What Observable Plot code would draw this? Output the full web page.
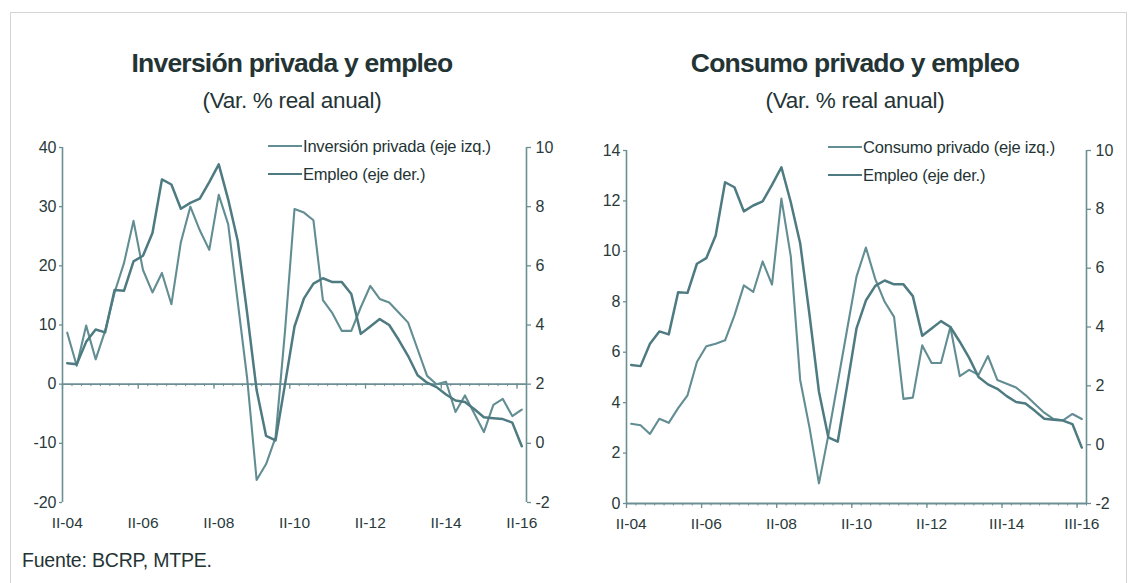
<!DOCTYPE html>
<html><head><meta charset="utf-8">
<script src="https://cdn.jsdelivr.net/npm/d3@7"></script>
<script src="https://cdn.jsdelivr.net/npm/@observablehq/plot@0.6"></script>
<style>
body{margin:0;background:#fff;}
#wrap{position:relative;width:1131px;height:583px;overflow:hidden;font-family:"Liberation Sans Narrow","Arial Narrow","Liberation Sans",Arial,sans-serif;color:#243435;background:#fff;}
.frame{position:absolute;left:10px;top:12px;width:1115px;height:600px;border:1px solid #d2d6d6;}
.title{position:absolute;font-weight:bold;font-size:26.5px;letter-spacing:-0.8px;text-align:center;width:460px;line-height:30px;}
.sub{position:absolute;font-size:22.5px;letter-spacing:-0.3px;text-align:center;width:460px;line-height:26px;}
.leg{position:absolute;font-size:16.5px;letter-spacing:-0.2px;line-height:18px;white-space:nowrap;}
.leg .row{display:flex;align-items:center;height:28px;}
.leg .sw{display:inline-block;width:34px;margin-right:1px;}
.src{position:absolute;left:22px;top:550px;font-size:19.5px;letter-spacing:-0.2px;}
.chart{position:absolute;top:0;}
</style></head>
<body><div id="wrap"><div class="frame"></div></div>
<script>
// ----- data (quarters II-04 .. II-16) -----
const quarters = d3.range(49); // category index, II-04 = 0
const xLabelsLeft  = ["II-04","II-06","II-08","II-10","II-12","II-14","II-16"];
const xLabelsRight = ["II-04","II-06","II-08","II-10","II-12","III-14","III-16"];
// Inversión privada, var. % real anual (left axis)
const inversion = [8.7,3.1,9.9,4.2,9.0,15.5,20.5,27.6,19.3,15.5,18.8,13.5,24.0,30.0,26.0,22.7,32.0,27.0,14.0,1.0,
  -16.2,-13.5,-9.0,9.0,29.6,29.0,27.7,14.2,12.0,9.0,9.0,13.0,16.6,14.4,13.8,12.1,10.4,5.9,1.4,0.0,
  0.4,-4.7,-1.9,-5.0,-8.1,-3.5,-2.5,-5.4,-4.3];
// Consumo privado, var. % real anual (left axis)
const consumo = [3.16,3.10,2.76,3.36,3.20,3.78,4.29,5.61,6.24,6.34,6.47,7.46,8.65,8.39,9.60,8.68,12.09,9.8,4.9,3.0,
  0.8,2.7,4.8,6.9,9.0,10.15,8.9,8.0,7.4,4.15,4.2,6.27,5.57,5.57,7.0,5.05,5.3,5.1,5.85,4.9,
  4.75,4.6,4.3,3.95,3.6,3.35,3.3,3.55,3.35];
// Empleo, var. % anual (right axis)
const empleo = [2.71,2.67,3.43,3.85,3.75,5.18,5.16,6.15,6.34,7.11,8.92,8.75,7.93,8.13,8.27,8.83,9.43,8.24,6.85,4.4,
  1.8,0.25,0.1,2.0,3.95,4.9,5.4,5.58,5.45,5.45,5.05,3.7,3.95,4.2,4.0,3.5,2.95,2.3,2.05,1.9,
  1.65,1.45,1.4,1.15,0.88,0.85,0.82,0.7,-0.1];
const leftTicksInv = [-20,-10,0,10,20,30,40];
const leftTicksCons = [0,2,4,6,8,10,12,14];
const rightTicks = [-2,0,2,4,6,8,10];

const C_MAIN = "#628d92", C_EMP = "#4e7b81", C_AXIS = "#6c8f94", C_TEXT = "#2a3a3b";
const FONT = '"Liberation Sans Narrow","Arial Narrow","Liberation Sans",Arial,sans-serif';

function panel(o) {
  const rows = quarters.map(i => ({i, main: o.main[i], emp: o.toLeft(empleo[i])}));
  const xDom = [-0.5, quarters.length - 0.5];
  const major = o.xLabels.map((_, k) => k * 8 - 0.5);
  const minor = d3.range(quarters.length + 1).map(k => k - 0.5);
  const labelPos = o.xLabels.map((_, k) => k * 8);
  const y0 = o.xAxisAt;
  return Plot.plot({
    width: o.width, height: 583,
    marginLeft: o.mL, marginRight: o.mR, marginTop: o.mT, marginBottom: o.mB,
    style: {background: "transparent", fontFamily: FONT, color: C_TEXT},
    x: {domain: xDom},
    y: {domain: o.yDomain},
    marks: [
      Plot.ruleY([y0], {stroke: C_AXIS, strokeWidth: 1.8}),
      Plot.ruleX([xDom[0], xDom[1]], {stroke: C_AXIS, strokeWidth: 1.6}),
      Plot.ruleX(minor, {x: d => d, y1: y0, y2: y0, insetBottom: -2.5, stroke: C_AXIS, strokeWidth: 1}),
      Plot.ruleX(major, {x: d => d, y1: y0, y2: y0, insetBottom: -5, stroke: C_AXIS, strokeWidth: 1.3}),
      Plot.axisY({anchor: "left", ticks: o.leftTicks, tickSize: 3, tickPadding: 3, stroke: C_AXIS, strokeWidth: 1.3,
        tickFormat: d => String(d), fontSize: 16, label: null, fill: C_TEXT}),
      Plot.axisY({anchor: "right", ticks: rightTicks.map(o.toLeft), tickSize: 4, tickPadding: 5, stroke: C_AXIS, strokeWidth: 1.3,
        tickFormat: d => String(Math.round(o.fromLeft(d))), fontSize: 16, label: null, fill: C_TEXT}),
      Plot.axisX({anchor: "bottom", ticks: labelPos, tickSize: 0, tickPadding: 14,
        tickFormat: d => o.xLabels[Math.round(d / 8)], fontSize: 15.5, label: null, fill: C_TEXT}),
      Plot.line(rows, {x: "i", y: "main", stroke: C_MAIN, strokeWidth: 2.1}),
      Plot.line(rows, {x: "i", y: "emp", stroke: C_EMP, strokeWidth: 2.5})
    ]
  });
}

const wrap = document.getElementById("wrap");
function place(node, left) { node.classList.add("chart"); node.style.left = left + "px"; wrap.appendChild(node); }

place(panel({width: 565, mL: 62, mR: 39, mT: 147, mB: 81, yDomain: [-20, 40], leftTicks: leftTicksInv,
  toLeft: e => (e - 2) * 5, fromLeft: v => v / 5 + 2, main: inversion, xLabels: xLabelsLeft, xAxisAt: 0}), 0);
place(panel({width: 566, mL: 61, mR: 45, mT: 150, mB: 80, yDomain: [0, 14], leftTicks: leftTicksCons,
  toLeft: e => (e + 2) * 14 / 12, fromLeft: v => v * 12 / 14 - 2, main: consumo, xLabels: xLabelsRight, xAxisAt: 0}), 565);

function addText(cls, txt, left, top) {
  const d = document.createElement("div"); d.className = cls; d.textContent = txt;
  d.style.left = left + "px"; d.style.top = top + "px"; wrap.appendChild(d); return d;
}
addText("title", "Inversión privada y empleo", 62, 48);
addText("sub", "(Var. % real anual)", 62, 88);
addText("title", "Consumo privado y empleo", 625, 48);
addText("sub", "(Var. % real anual)", 625, 88);

function legend(left, top, label1) {
  const d = document.createElement("div"); d.className = "leg";
  d.style.left = left + "px"; d.style.top = top + "px";
  [[label1, C_MAIN, 2.1], ["Empleo (eje der.)", C_EMP, 2.5]].forEach(([t, c, w]) => {
    const r = document.createElement("div"); r.className = "row";
    const s = document.createElement("span"); s.className = "sw";
    s.style.borderTop = w + "px solid " + c;
    r.appendChild(s); r.appendChild(document.createTextNode(t)); d.appendChild(r);
  });
  wrap.appendChild(d);
}
legend(268, 132, "Inversión privada (eje izq.)");
legend(828, 133, "Consumo privado (eje izq.)");
addText("src", "Fuente: BCRP, MTPE.", 22, 549);
</script></body></html>
